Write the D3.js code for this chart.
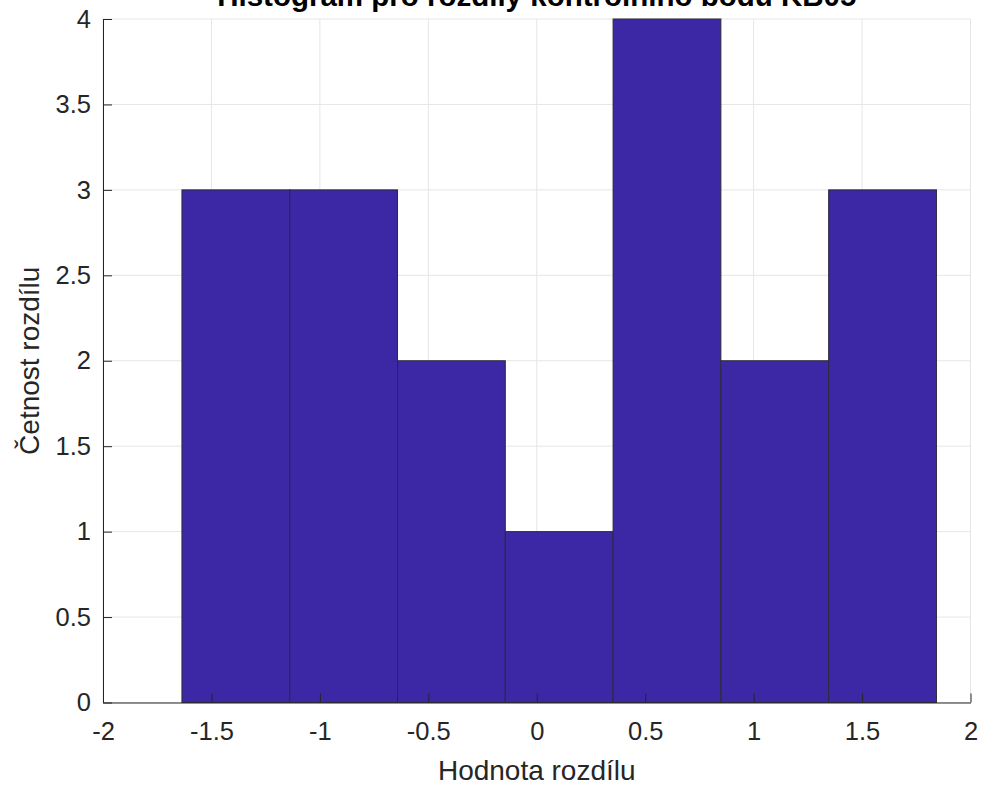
<!DOCTYPE html>
<html>
<head>
<meta charset="utf-8">
<script src="https://cdn.jsdelivr.net/npm/d3@7"></script>
<style>
  html, body { margin: 0; padding: 0; background: #ffffff; }
  svg { display: block; }
  text { font-family: "Liberation Sans", Arial, Helvetica, sans-serif; fill: #262626; }
</style>
</head>
<body>
<div id="chart"></div>
<script>
// ---- data ----
const binEdges = [-1.636, -1.139, -0.642, -0.145, 0.352, 0.849, 1.346, 1.843];
const counts = [3, 3, 2, 1, 4, 2, 3];
const xTicks = [-2, -1.5, -1, -0.5, 0, 0.5, 1, 1.5, 2];
const xTickLabels = ["-2", "-1.5", "-1", "-0.5", "0", "0.5", "1", "1.5", "2"];
const yTicks = [0, 0.5, 1, 1.5, 2, 2.5, 3, 3.5, 4];
const yTickLabels = ["0", "0.5", "1", "1.5", "2", "2.5", "3", "3.5", "4"];
const titleText = "Histogram pro rozdíly kontrolního bodu KB05";
const xLabelText = "Hodnota rozdílu";
const yLabelText = "Četnost rozdílu";

// ---- layout ----
const W = 984, H = 787;
const L = 103, R = 970.5, T = 19, B = 702.5;

const svg = d3.select("#chart").append("svg").attr("width", W).attr("height", H);

const x = d3.scaleLinear().domain([-2, 2]).range([L, R]);
const y = d3.scaleLinear().domain([0, 4]).range([B, T]);

const bins = counts.map((c, i) => ({ x0: binEdges[i], x1: binEdges[i + 1], n: c }));

// grid
const grid = svg.append("g");
grid.selectAll("line.gx").data(xTicks).enter().append("line")
  .attr("x1", d => x(d)).attr("x2", d => x(d)).attr("y1", T).attr("y2", B)
  .attr("stroke", "#e6e6e6").attr("stroke-width", 1);
grid.selectAll("line.gy").data(yTicks).enter().append("line")
  .attr("x1", L).attr("x2", R).attr("y1", d => y(d)).attr("y2", d => y(d))
  .attr("stroke", "#e6e6e6").attr("stroke-width", 1);

// bars
svg.append("g").selectAll("rect").data(bins).enter().append("rect")
  .attr("x", d => x(d.x0)).attr("y", d => y(d.n))
  .attr("width", d => x(d.x1) - x(d.x0)).attr("height", d => y(0) - y(d.n))
  .attr("fill", "#3c28a4").attr("stroke", "#2a2a3a").attr("stroke-width", 1);

// axes
const xAxis = d3.axisBottom(x).tickValues(xTicks)
  .tickFormat((d, i) => xTickLabels[i]).tickSizeInner(-9).tickSizeOuter(0).tickPadding(20);
const gx = svg.append("g").attr("transform", `translate(0,${B})`).call(xAxis);
gx.select(".domain").attr("stroke", "#262626").attr("stroke-width", 1);
gx.selectAll(".tick line").attr("stroke", "#262626");
gx.selectAll(".tick text").attr("font-size", "25.5px").attr("fill", "#262626")
  .attr("font-family", "Liberation Sans, Arial, sans-serif").attr("dy", "0.71em").attr("y", 19);

const yAxis = d3.axisLeft(y).tickValues(yTicks)
  .tickFormat((d, i) => yTickLabels[i]).tickSizeInner(-9).tickSizeOuter(0).tickPadding(12);
const gy = svg.append("g").attr("transform", `translate(${L},0)`).call(yAxis);
gy.select(".domain").attr("stroke", "#262626").attr("stroke-width", 1);
gy.selectAll(".tick line").attr("stroke", "#262626");
gy.selectAll(".tick text").attr("font-size", "25.5px").attr("fill", "#262626")
  .attr("font-family", "Liberation Sans, Arial, sans-serif").attr("x", -12);

// labels
svg.append("text").attr("x", (L + R) / 2).attr("y", 780).attr("text-anchor", "middle")
  .attr("font-size", "28px").text(xLabelText);
svg.append("text").attr("transform", `translate(39,${(T + B) / 2}) rotate(-90)`)
  .attr("text-anchor", "middle").attr("font-size", "28px").text(yLabelText);
svg.append("text").attr("x", (L + R) / 2).attr("y", 6).attr("text-anchor", "middle")
  .attr("font-size", "29.5px").attr("font-weight", "bold").attr("fill", "#000")
  .style("fill", "#000").text(titleText);
</script>
</body>
</html>
